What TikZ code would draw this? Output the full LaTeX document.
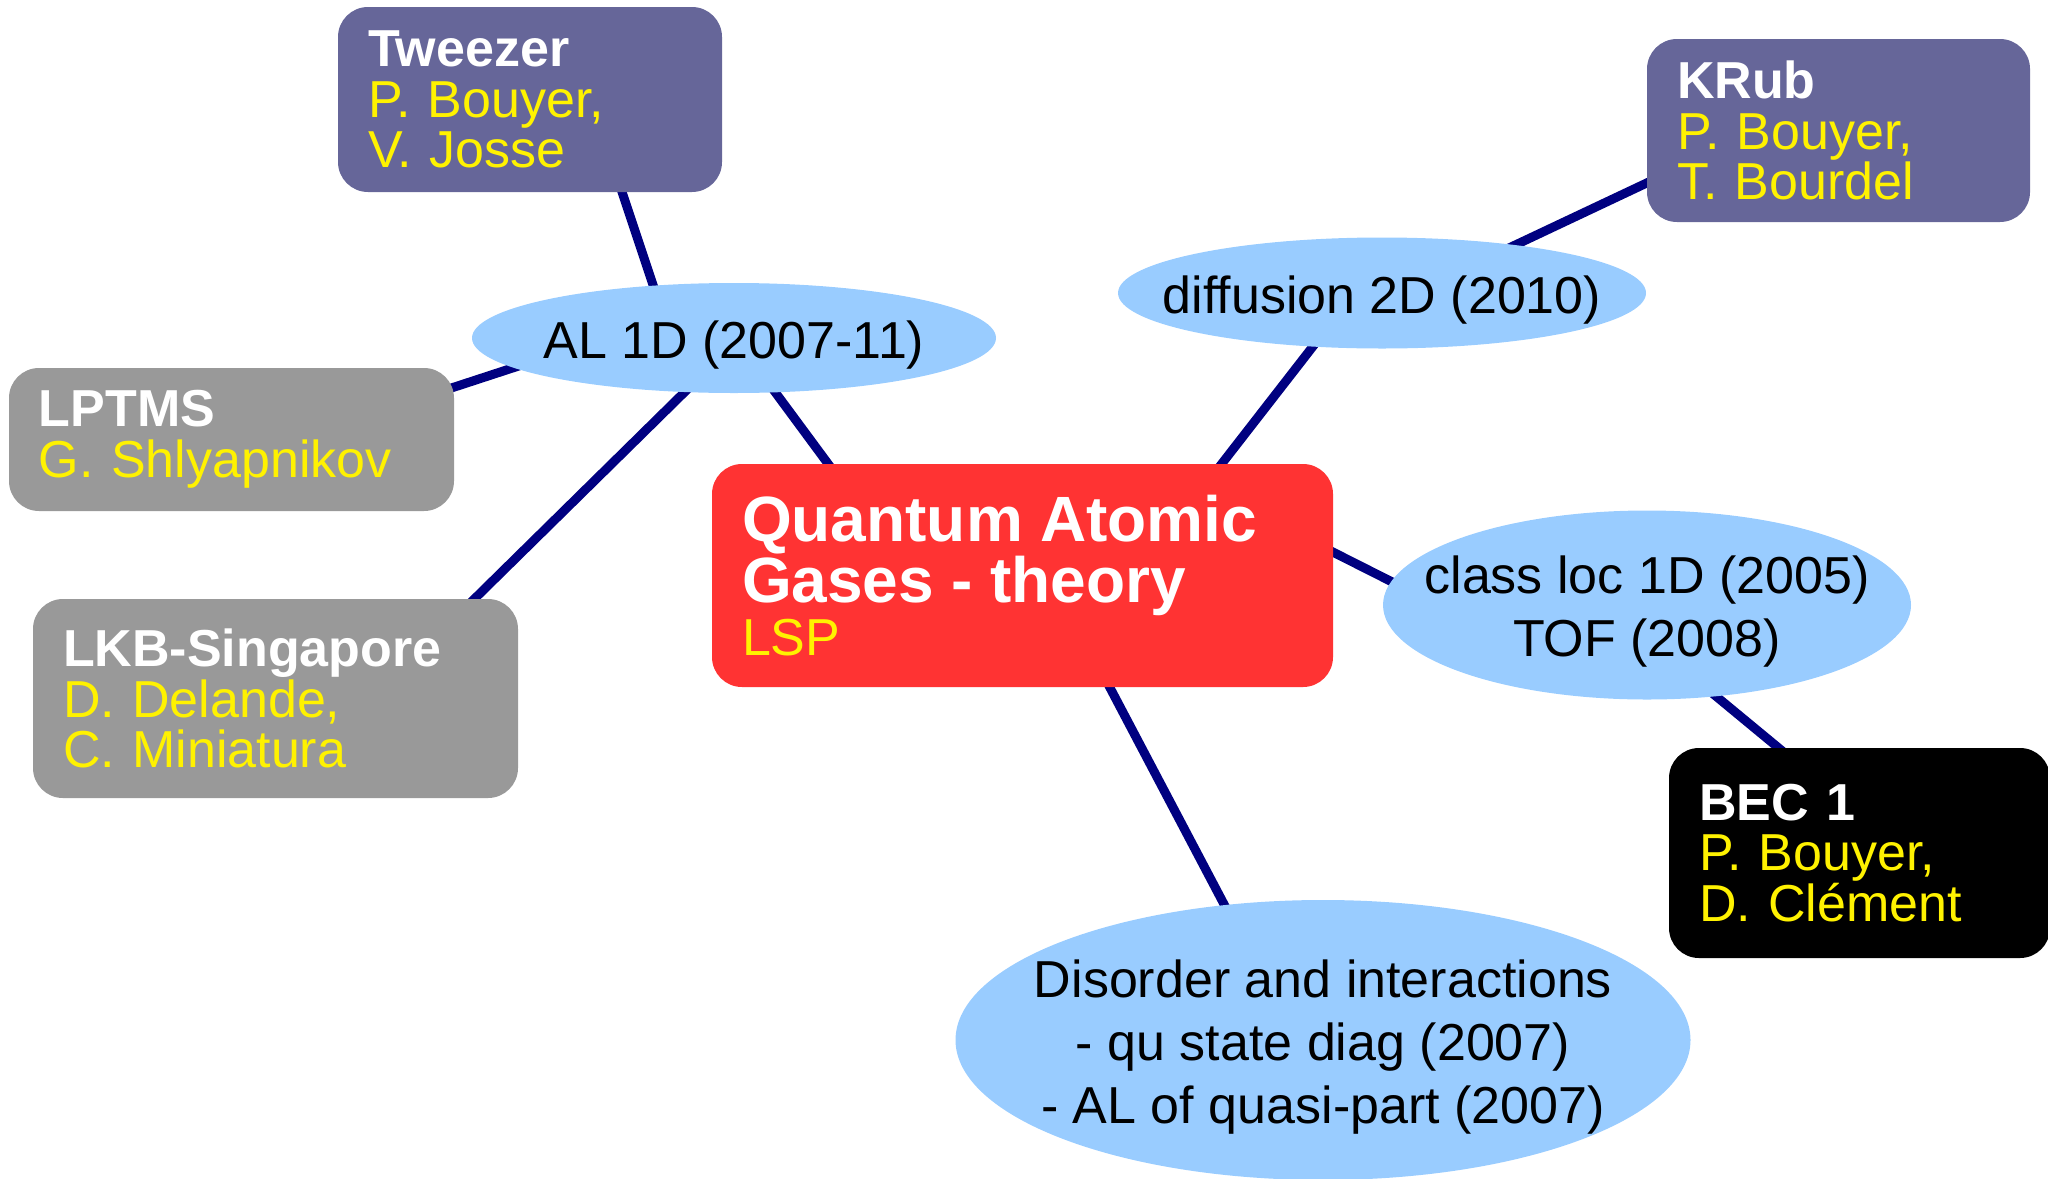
\documentclass[tikz,border=0pt]{standalone}
\usepackage{fontspec}
\setmainfont{Liberation Sans}
\usepackage{xcolor}
\usetikzlibrary{shapes.geometric}

\definecolor{teamblue}{HTML}{666699}
\definecolor{teamgrey}{HTML}{999999}
\definecolor{themered}{HTML}{FF3333}
\definecolor{topicblue}{HTML}{99CCFF}
\definecolor{linknavy}{HTML}{000080}

\pgfdeclarelayer{background}
\pgfsetlayers{background,main}

\newcommand{\teamname}[1]{\textcolor{white}{\bfseries #1}}

\begin{document}
\begin{tikzpicture}[x=0.5pt, y=-0.5pt,
    box/.style={rectangle, rounded corners=15pt, text=yellow, align=left,
                inner xsep=15pt, inner ysep=0pt,
                font=\fontsize{26}{25.3}\selectfont},
    labbox/.style={box, fill=teamblue},
    theobox/.style={box, fill=teamgrey},
    expbox/.style={box, fill=black},
    themebox/.style={box, fill=themered},
    topic/.style={ellipse, fill=topicblue, inner sep=0pt},
    topictext/.style={align=center, text=black, yshift=-3.5pt,
                      font=\fontsize{26}{31.5}\selectfont},
    link/.style={line width=4.5pt, linknavy}
]
    \useasboundingbox (0,0) rectangle (2048,1178);

    % Central theme
    \node[themebox, text width=280.5pt, minimum height=111.5pt] (theme) at (1022.5,575.5)
        {{\fontsize{32}{30.5}\selectfont\bfseries\color{white}Quantum Atomic\\Gases - theory}\\[1.5pt]LSP};

    % Topics
    \node[topic, minimum width=262pt, minimum height=55pt,
          label={[topictext]center:AL 1D (2007-11)}] (al) at (734,338) {};
    \node[topic, minimum width=264pt, minimum height=55.5pt,
          label={[topictext]center:diffusion 2D (2010)}] (diff) at (1382,293) {};
    \node[topic, minimum width=264pt, minimum height=94.5pt,
          label={[topictext]center:class loc 1D (2005)\\TOF (2008)}] (loc) at (1647,605) {};
    \node[topic, minimum width=367.5pt, minimum height=140pt,
          label={[topictext]center:Disorder and interactions\\- qu state diag (2007)\\- AL of quasi-part (2007)}] (dis) at (1323,1040) {};

    % Teams
    \node[labbox, text width=162pt, minimum height=92.5pt] (tweezer) at (530,99.5)
        {\teamname{Tweezer}\\P. Bouyer,\\V. Josse};
    \node[labbox, text width=161.5pt, minimum height=91.5pt] (krub) at (1838.5,130.5)
        {\teamname{KRub}\\P. Bouyer,\\T. Bourdel};
    \node[theobox, text width=192.5pt, minimum height=71.5pt] (lptms) at (231.5,439.5)
        {\teamname{LPTMS}\\G. Shlyapnikov};
    \node[theobox, text width=212.5pt, minimum height=99.5pt] (lkb) at (275.5,698.5)
        {\teamname{LKB-Singapore}\\D. Delande,\\C. Miniatura};
    \node[expbox, text width=160.5pt, minimum height=105pt] (bec) at (1859.5,853)
        {\teamname{BEC 1}\\P. Bouyer,\\D. Clément};

    % Links
    \begin{pgfonlayer}{background}
    \draw[link] ([shift={(84,68.5)}]tweezer.center) -- ([shift={(-73,-29)}]al.center);
    \draw[link] ([shift={(198.5,-44.5)}]lptms.center) -- ([shift={(-194,21)}]al.center);
    \draw[link] ([shift={(180.5,-81.5)}]lkb.center) -- ([shift={(-29,34)}]al.center);
    \draw[link] ([shift={(27,35)}]al.center) -- ([shift={(-179.5,-91.5)}]theme.center);
    \draw[link] ([shift={(183.5,-91.5)}]theme.center) -- ([shift={(-54,34)}]diff.center);
    \draw[link] ([shift={(110,-37)}]diff.center) -- ([shift={(-168.5,41.5)}]krub.center);
    \draw[link] ([shift={(288.5,-34.5)}]theme.center) -- ([shift={(-233,-12)}]loc.center);
    \draw[link] ([shift={(53,78)}]loc.center) -- ([shift={(-61.5,-89)}]bec.center);
    \draw[link] ([shift={(75.5,89.5)}]theme.center) -- ([shift={(-87,-113)}]dis.center);
    \end{pgfonlayer}

\end{tikzpicture}
\end{document}
